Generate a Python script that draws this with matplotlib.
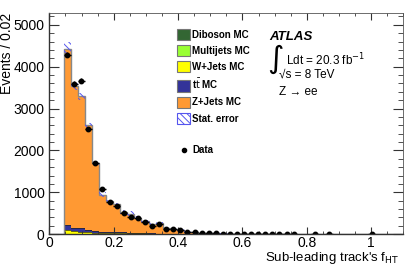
import numpy as np
import matplotlib
matplotlib.use("Agg")
import matplotlib.pyplot as plt
from matplotlib.patches import Patch
from matplotlib.lines import Line2D
from matplotlib.ticker import MultipleLocator

plt.rcParams['font.family'] = ['Liberation Sans', 'DejaVu Sans']
plt.rcParams['hatch.linewidth'] = 0.7

# 50 bins of 0.022 between 0 and 1.1, first filled bin is number 2
nbins = 50
bin_width = 0.022
first_bin = 2

zjets = [4208, 3375, 3153, 2494, 1627, 880, 729, 662, 488, 445, 360, 284, 214, 245,
         145, 124, 94, 57, 43, 29, 24, 21, 17, 14, 12, 10, 8, 7, 6, 5, 4, 3, 3, 2,
         2, 2, 1, 1, 1, 1, 1, 1, 1, 1]
ttbar = [130, 90, 80, 55, 40, 30, 25, 20, 15, 12, 10, 8, 6, 5, 4, 3, 3, 2, 2, 1]
wjets = [75, 55, 50, 40, 35, 30, 28, 25, 25, 22, 20, 18, 15, 12, 10, 8, 6, 4, 3, 2]
multijets = [10, 8, 6, 5, 4, 3, 2, 2, 1, 1]
diboson = [6, 5, 4, 3, 2, 2, 1, 1, 1]
stat_err = [170, 80, 80, 70, 50, 60, 40, 40, 40, 80, 35, 30, 25, 25, 20, 20, 15, 12,
            10, 8, 6, 5, 5, 4, 4, 3, 3, 3, 2, 2, 2, 2, 2]
data = [4290, 3597, 3670, 2510, 1700, 1083, 762, 686, 510, 405, 396, 287, 203, 238,
        135, 135, 95, 55, 48, 30, 22, 20, 15, 14, 10, 9, 8, 6, 5, 4, 3, 2, 2, 0, 0,
        1, 0, 1, 0, 0, 0, 0, 0, 1]


def pad(vals):
    out = np.zeros(nbins)
    out[first_bin:first_bin + len(vals)] = vals
    return out


edges = np.arange(nbins + 1) * bin_width
lo = edges[:-1]
centers = lo + bin_width / 2

stack = [("Diboson MC", pad(diboson), "#336633"),
         ("Multijets MC", pad(multijets), "#99ff33"),
         ("W+Jets MC", pad(wjets), "#ffff00"),
         ("t$\\bar{\\mathrm{t}}$ MC", pad(ttbar), "#333399"),
         ("Z+Jets MC", pad(zjets), "#ff9933")]

fig = plt.figure(figsize=(4.15, 2.73), dpi=100)
ax = fig.add_axes([0.119, 0.142, 0.853, 0.81])

bottom = np.zeros(nbins)
for name, vals, col in stack:
    ax.stairs(bottom + vals, edges, baseline=bottom, fill=True, color=col)
    if name != "Z+Jets MC":
        ax.stairs(bottom + vals, edges, color='#222222', linewidth=0.5)
    bottom = bottom + vals
total = bottom
ax.stairs(total, edges, color='#888888', linewidth=1.0)

err = pad(stat_err)
ax.bar(lo, 2 * err, width=bin_width, bottom=total - err, align='edge', fill=False,
       hatch='\\\\\\\\\\', edgecolor='#5555ee', linewidth=0)

d = pad(data)
m = d > 0
ax.errorbar(centers[m], d[m], xerr=bin_width / 2, yerr=np.sqrt(d[m]), fmt='o',
            color='black', ms=3.2, elinewidth=1.0, capsize=0)

ax.set_xlim(0, 1.1)
ax.set_ylim(0, 5280)
ax.xaxis.set_major_locator(MultipleLocator(0.2))
ax.xaxis.set_minor_locator(MultipleLocator(0.05))
ax.yaxis.set_major_locator(MultipleLocator(1000))
ax.yaxis.set_minor_locator(MultipleLocator(200))
ax.tick_params(which='both', direction='in', top=True, right=True, labelsize=10,
               color='#333333')
ax.tick_params(axis='y', which='major', length=7)
ax.tick_params(axis='y', which='minor', length=3.5)
ax.tick_params(axis='x', which='major', length=5, pad=1.5)
ax.tick_params(axis='x', which='minor', length=2.5)
ax.set_xticks([0, 0.2, 0.4, 0.6, 0.8, 1.0], ['0', '0.2', '0.4', '0.6', '0.8', '1'])
for s in ['left', 'bottom']:
    ax.spines[s].set_color('#333333')
    ax.spines[s].set_linewidth(1.0)
for s in ['top', 'right']:
    ax.spines[s].set_color('#555555')
    ax.spines[s].set_linewidth(0.6)

ax.set_xlabel("Sub-leading track's f$_{\\mathrm{HT}}$", fontsize=9.5)
ax.xaxis.set_label_coords(0.99, -0.072)
ax.xaxis.label.set_horizontalalignment('right')
ax.set_ylabel("Events / 0.02", fontsize=10)
ax.yaxis.set_label_coords(-0.1, 1.0)
ax.yaxis.label.set_horizontalalignment('right')

handles = [Patch(facecolor=col, edgecolor='#777777', linewidth=0.8)
           for name, vals, col in stack]
labels = [name for name, vals, col in stack]
handles.append(Patch(facecolor='white', edgecolor='#5555ee', hatch='\\\\\\\\\\',
                     linewidth=0.8))
labels.append("Stat. error")
leg = ax.legend(handles, labels, loc='upper left', bbox_to_anchor=(0.361, 0.928),
                frameon=False, prop={'weight': 'bold', 'size': 7},
                handlelength=1.35, handleheight=1.4, handletextpad=0.2,
                labelspacing=0.5, borderpad=0, borderaxespad=0)
ax.add_artist(leg)
ax.legend([Line2D([], [], marker='o', color='black', ls='none', ms=3)], ["Data"],
          loc='center left', bbox_to_anchor=(0.361, 0.381), frameon=False,
          prop={'weight': 'bold', 'size': 7}, handlelength=1.35,
          handletextpad=0.2, borderpad=0, borderaxespad=0)

ax.text(0.62, 0.891, "ATLAS", transform=ax.transAxes, fontsize=9.5,
        fontweight='bold', fontstyle='italic', va='center')
ax.text(0.614, 0.792, "$\\int$", transform=ax.transAxes, fontsize=16, va='center')
ax.text(0.668, 0.788, "Ldt = 20.3 fb$^{-1}$", transform=ax.transAxes, fontsize=8.5,
        va='center')
ax.text(0.648, 0.722, "\u221as = 8 TeV", transform=ax.transAxes, fontsize=8.5,
        va='center')
ax.text(0.648, 0.644, "Z \u2192 ee", transform=ax.transAxes, fontsize=8.5,
        va='center')

fig.savefig("out.png", dpi=100)
